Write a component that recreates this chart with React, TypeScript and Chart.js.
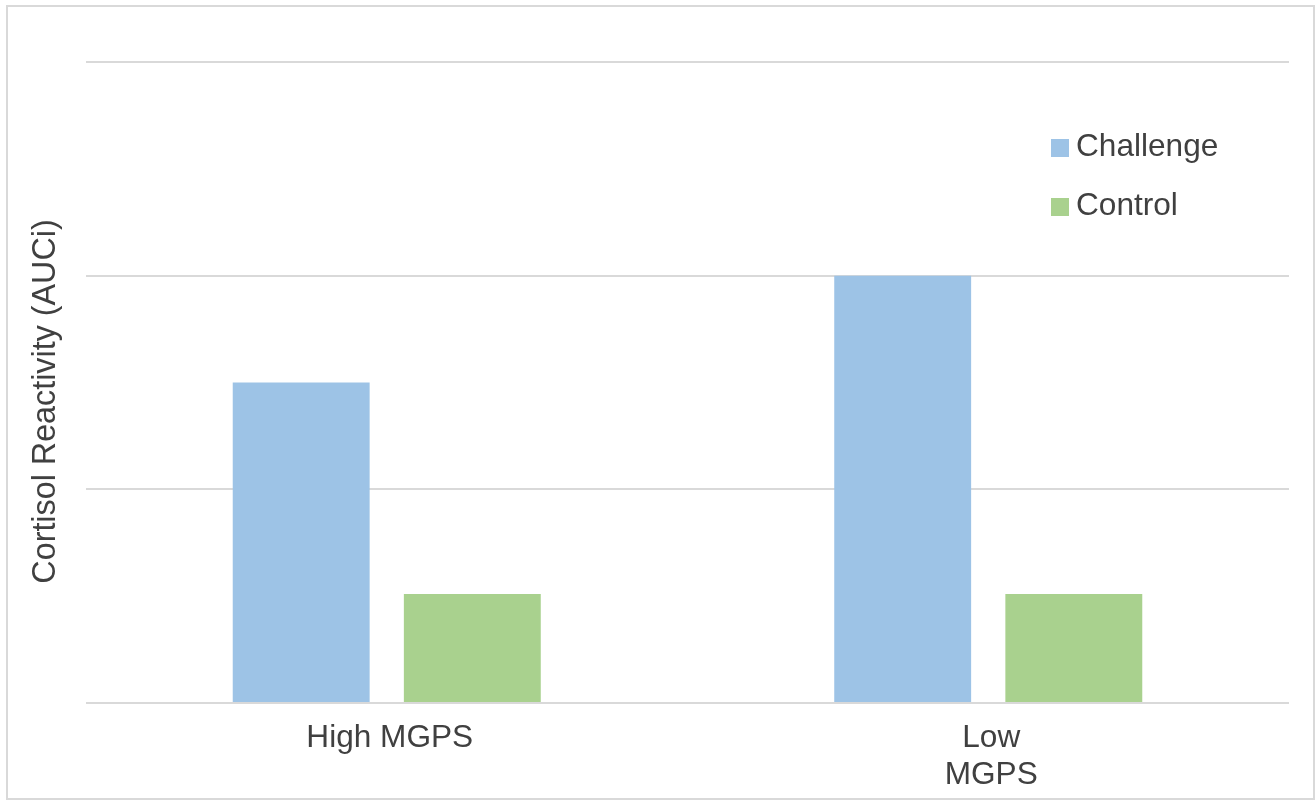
import React, { useEffect, useRef } from "react";
import { Chart, registerables } from "chart.js";

Chart.register(...registerables);

// Groups along the category axis (second label wraps onto two lines)
const categories: (string | string[])[] = ["High MGPS", ["Low", "MGPS"]];
// Cortisol reactivity (AUCi) per group
const challengeValues = [1.5, 2.0];
const controlValues = [0.51, 0.51];
// Value axis range and step (gridlines only, no tick labels)
const yMin = 0;
const yMax = 3;
const yStep = 1;

const yTitle = "Cortisol Reactivity (AUCi)";

const FONT_FAMILY = '"Liberation Sans", Arial, Helvetica, sans-serif';
const TEXT_COLOR = "#404040";
const FONT_SIZE = 31.6;
const TITLE_FONT_SIZE = 32.3;

// Rotated value-axis title
const yTitlePlugin = {
  id: "yTitleText",
  afterDraw(chart: any) {
    const { ctx, chartArea } = chart;
    ctx.save();
    ctx.font = `${TITLE_FONT_SIZE}px ${FONT_FAMILY}`;
    ctx.fillStyle = TEXT_COLOR;
    ctx.textAlign = "center";
    ctx.textBaseline = "alphabetic";
    ctx.translate(chartArea.left - 31, (chartArea.top + chartArea.bottom) / 2 + 19);
    ctx.rotate(-Math.PI / 2);
    ctx.fillText(yTitle, 0, 0);
    ctx.restore();
  },
};

// Legend drawn inside the plot area, top right
const innerLegendPlugin = {
  id: "innerLegend",
  afterDraw(chart: any) {
    const { ctx, chartArea } = chart;
    const boxX = chartArea.right - 238;
    const firstTop = chartArea.top + 77;
    const rowGap = 59;
    const box = 18;
    ctx.save();
    ctx.font = `${FONT_SIZE}px ${FONT_FAMILY}`;
    ctx.textAlign = "left";
    ctx.textBaseline = "alphabetic";
    chart.data.datasets.forEach((ds: any, i: number) => {
      const top = firstTop + i * rowGap;
      ctx.fillStyle = ds.backgroundColor;
      ctx.fillRect(boxX, top, box, box);
      ctx.fillStyle = TEXT_COLOR;
      ctx.fillText(ds.label, boxX + 25, top + 17);
    });
    ctx.restore();
  },
};

export default function App() {
  const canvasRef = useRef<HTMLCanvasElement | null>(null);

  useEffect(() => {
    const canvas = canvasRef.current;
    if (!canvas) return;
    const chart = new Chart(canvas, {
      type: "bar",
      data: {
        labels: categories as any,
        datasets: [
          {
            label: "Challenge",
            data: challengeValues,
            backgroundColor: "#9DC3E6",
            borderWidth: 0,
            categoryPercentage: 0.569,
            barPercentage: 0.8,
          },
          {
            label: "Control",
            data: controlValues,
            backgroundColor: "#A9D18E",
            borderWidth: 0,
            categoryPercentage: 0.569,
            barPercentage: 0.8,
          },
        ],
      },
      options: {
        animation: false,
        responsive: false,
        devicePixelRatio: 1,
        layout: { padding: { left: 0, top: 62, right: 27, bottom: 0 } },
        plugins: {
          legend: { display: false },
          tooltip: { enabled: false },
        },
        scales: {
          x: {
            grid: { display: false, drawTicks: false },
            border: { display: false },
            ticks: {
              color: TEXT_COLOR,
              padding: 17,
              labelOffset: 3,
              maxRotation: 0,
              autoSkip: false,
              font: { family: FONT_FAMILY, size: FONT_SIZE, lineHeight: 1.17 },
            },
            afterFit(scale: any) {
              scale.height = 98;
            },
          },
          y: {
            min: yMin,
            max: yMax,
            ticks: { display: false, stepSize: yStep },
            grid: { color: "#D9D9D9", lineWidth: 2, drawTicks: false },
            border: { display: false },
            afterFit(scale: any) {
              scale.width = 86;
            },
          },
        },
      },
      plugins: [yTitlePlugin, innerLegendPlugin],
    });
    return () => chart.destroy();
  }, []);

  return (
    <div
      style={{
        position: "fixed",
        left: 0,
        top: 0,
        width: 1316,
        height: 801,
        background: "#FFFFFF",
      }}
    >
      <div
        style={{
          position: "absolute",
          left: 6,
          top: 5,
          width: 1309,
          height: 795,
          border: "2px solid #D9D9D9",
          boxSizing: "border-box",
        }}
      />
      <canvas
        ref={canvasRef}
        width={1316}
        height={801}
        style={{ position: "absolute", left: 0, top: 0, width: 1316, height: 801 }}
      />
    </div>
  );
}
